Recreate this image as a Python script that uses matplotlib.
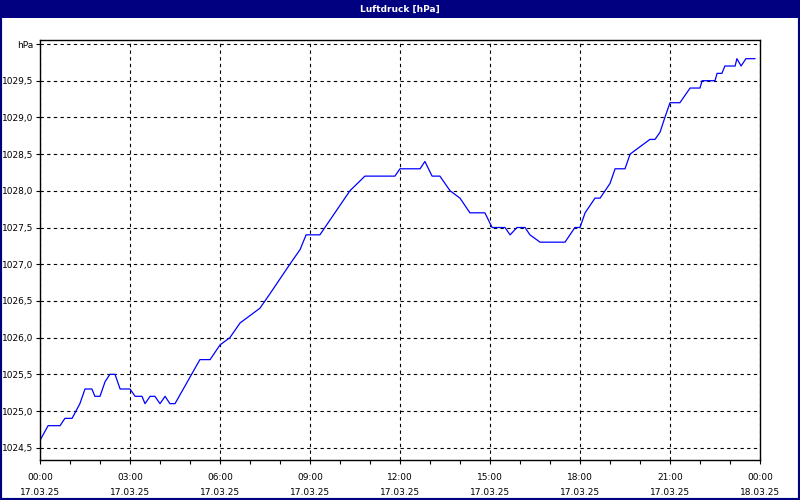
import matplotlib
matplotlib.use("Agg")
import matplotlib.pyplot as plt
from matplotlib.patches import Rectangle

# hours since 17.03.25 00:00, pressure in hPa
hours = [0.0, 0.27, 0.67, 0.83, 1.07, 1.33, 1.5, 1.73, 1.83, 2.0, 2.17, 2.33, 2.5, 2.67, 3.0,
         3.17, 3.4, 3.5, 3.67, 3.83, 4.0, 4.17, 4.33, 4.5, 5.33, 5.67, 6.0, 6.33, 6.67, 7.0,
         7.33, 7.67, 8.33, 8.67, 8.87, 9.33, 10.33, 10.83, 11.83, 12.0, 12.67, 12.83, 13.07,
         13.33, 13.67, 14.0, 14.33, 14.83, 15.07, 15.5, 15.67, 15.9, 16.17, 16.33, 16.67, 17.5,
         17.83, 18.0, 18.17, 18.5, 18.67, 19.0, 19.17, 19.5, 19.67, 20.0, 20.33, 20.5, 20.67,
         20.83, 21.0, 21.33, 21.67, 22.0, 22.07, 22.5, 22.57, 22.73, 22.83, 23.17, 23.23,
         23.37, 23.53, 23.83]
hpa = [1024.6, 1024.8, 1024.8, 1024.9, 1024.9, 1025.1, 1025.3, 1025.3, 1025.2, 1025.2,
       1025.4, 1025.5, 1025.5, 1025.3, 1025.3, 1025.2, 1025.2, 1025.1, 1025.2, 1025.2,
       1025.1, 1025.2, 1025.1, 1025.1, 1025.7, 1025.7, 1025.9, 1026.0, 1026.2, 1026.3,
       1026.4, 1026.6, 1027.0, 1027.2, 1027.4, 1027.4, 1028.0, 1028.2, 1028.2, 1028.3,
       1028.3, 1028.4, 1028.2, 1028.2, 1028.0, 1027.9, 1027.7, 1027.7, 1027.5, 1027.5,
       1027.4, 1027.5, 1027.5, 1027.4, 1027.3, 1027.3, 1027.5, 1027.5, 1027.7, 1027.9,
       1027.9, 1028.1, 1028.3, 1028.3, 1028.5, 1028.6, 1028.7, 1028.7, 1028.8, 1029.0,
       1029.2, 1029.2, 1029.4, 1029.4, 1029.5, 1029.5, 1029.6, 1029.6, 1029.7, 1029.7,
       1029.8, 1029.7, 1029.8, 1029.8]

x_ticks = [0, 3, 6, 9, 12, 15, 18, 21, 24]
x_labels = ["00:00\n17.03.25", "03:00\n17.03.25", "06:00\n17.03.25", "09:00\n17.03.25",
            "12:00\n17.03.25", "15:00\n17.03.25", "18:00\n17.03.25", "21:00\n17.03.25",
            "00:00\n18.03.25"]
y_ticks = [1024.5, 1025.0, 1025.5, 1026.0, 1026.5, 1027.0, 1027.5, 1028.0, 1028.5,
           1029.0, 1029.5, 1030.0]
y_labels = ["1024,5", "1025,0", "1025,5", "1026,0", "1026,5", "1027,0", "1027,5",
            "1028,0", "1028,5", "1029,0", "1029,5", "hPa"]

NAVY = "#000080"
W, H = 800, 500

fig = plt.figure(figsize=(8, 5), dpi=100)
# window frame and title bar
fig.patches.append(Rectangle((0, 0), 1, 1, transform=fig.transFigure, fill=False,
                             edgecolor=NAVY, linewidth=3))
fig.patches.append(Rectangle((0, 1 - 18 / H), 1, 18 / H, transform=fig.transFigure,
                             facecolor=NAVY, edgecolor="none"))
fig.text(0.5, 1 - 9 / H, "Luftdruck [hPa]", color="white", ha="center", va="center",
         fontsize=6.5, fontweight="bold")

ax = fig.add_axes([40 / W, 1 - 460 / H, 720 / W, 420 / H])
ax.plot(hours, hpa, color="#0000ff", lw=0.9)
ax.set_xlim(0, 24)
ax.set_ylim(1030 - 416 / 73.4, 1030 + 4 / 73.4)
ax.set_xticks(x_ticks, x_labels, fontsize=6.5, linespacing=1.9)
ax.set_xticks(range(25), minor=True)
ax.set_yticks(y_ticks, y_labels, fontsize=6.5)
ax.tick_params(axis="y", length=3, width=0.8, pad=2)
ax.tick_params(axis="x", which="both", length=3, width=0.8, pad=6)
ax.grid(True, color="black", ls=(0, (3, 3)), lw=0.8)
for s in ax.spines.values():
    s.set_linewidth(1)
fig.savefig("out.png", dpi=100)
